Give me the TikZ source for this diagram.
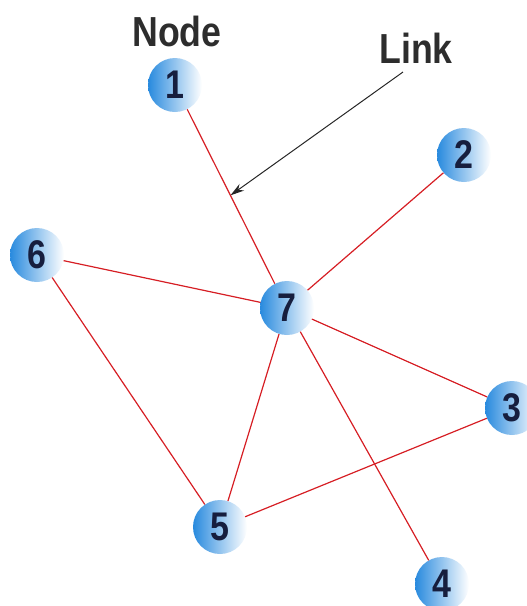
\documentclass[tikz,border=0pt]{standalone}
\usepackage{fontspec}
\newfontfamily\condfont[FakeStretch=0.85]{Liberation Sans}
\usetikzlibrary{calc,arrows.meta}
\definecolor{linkred}{RGB}{214,30,36}
\definecolor{ballblue}{RGB}{40,138,222}
\definecolor{digitnavy}{RGB}{22,30,62}
\definecolor{labelgray}{RGB}{45,45,45}
\tikzset{
  ball/.style={circle, minimum size=54pt, inner sep=0pt, shading=axis,
    left color=ballblue, right color=white, shading angle=90,
    font=\condfont\bfseries\fontsize{40}{40}\selectfont, text=digitnavy},
  link/.style={draw=linkred, line width=1.2pt},
  caption/.style={font=\condfont\bfseries\fontsize{42}{42}\selectfont, text=labelgray},
  pointer/.style={draw=black!85, line width=1pt, -{Stealth[length=14pt,width=8pt]}}
}
\begin{document}
\begin{tikzpicture}[x=1pt,y=-1pt]
\useasboundingbox (0,0) rectangle (527,606);
\node[ball] (n1) at (175,85) {1};
\node[ball] (n2) at (464,155) {2};
\node[ball] (n3) at (512,408) {3};
\node[ball] (n4) at (442,584) {4};
\node[ball] (n5) at (220,527) {5};
\node[ball] (n6) at (37,255) {6};
\node[ball] (n7) at (287,308) {7};
\path[link] (n1) -- (n7);
\path[link] (n2) -- (n7);
\path[link] (n6) -- (n7);
\path[link] (n7) -- (n3);
\path[link] (n7) -- (n4);
\path[link] (n7) -- (n5);
\path[link] (n6) -- (n5);
\path[link] (n5) -- (n3);
\node[caption] (nodelbl) at (177,31) {Node};
\node[caption] (linklbl) at (416,48) {Link};
\coordinate (ltail) at (403,72);
\coordinate (lhead) at ($(n1)!0.495!(n7)$);
\path[pointer] (ltail) -- (lhead);
\end{tikzpicture}
\end{document}
